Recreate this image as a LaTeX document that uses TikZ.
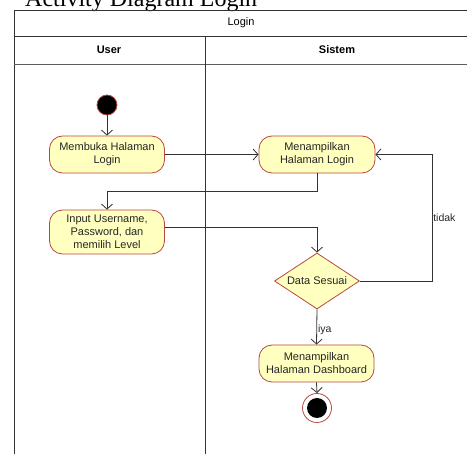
\documentclass[tikz,border=0pt]{standalone}
\usepackage{xcolor}
\usepackage{fontspec}
\setmainfont{Liberation Sans}
\newfontfamily\titlefont{Liberation Serif}
\usepackage{tikz}
\usetikzlibrary{
  positioning,
  calc,
  arrows.meta,
  shapes.geometric
}

\definecolor{actfill}{HTML}{FFFFC0}
\definecolor{actline}{HTML}{B8483E}
\definecolor{edgeline}{HTML}{333333}

\begin{document}
\begin{tikzpicture}[x=1pt,y=-1pt,
  font=\fontsize{11}{13}\selectfont,
  frame/.style={draw=edgeline,line width=0.8pt},
  activity/.style={draw=actline,fill=actfill,line width=0.8pt,rounded corners=13pt,
    align=center,inner sep=2pt,text=black!85},
  decision/.style={draw=actline,fill=actfill,line width=0.8pt,diamond,aspect=1.52,
    inner sep=0pt,minimum width=85pt,minimum height=56pt,text=black!85},
  flow/.style={draw=edgeline,line width=0.8pt,-{Straight Barb[length=5pt,width=11pt]}},
  guard/.style={font=\fontsize{10.5}{12}\selectfont,text=black!85,inner sep=1pt}
]
  \useasboundingbox (0,0) rectangle (467,454);

  % judul
  \node[anchor=base west,inner sep=0pt,font=\titlefont\fontsize{24}{28}\selectfont]
    (judul) at (25,7) {Activity Diagram Login};

  % swimlane
  \draw[frame] (14,460) -- (14,10) -- (469,10) -- (469,460);
  \draw[frame] (14,36) -- (469,36);
  \draw[frame,draw=edgeline!80] (14,64) -- (469,64);
  \draw[frame] (205,36) -- (205,460);
  \node (pool) at (241,23) {Login};
  \node[font=\bfseries\fontsize{11}{13}\selectfont] (laneUser) at (109,50) {User};
  \node[font=\bfseries\fontsize{11}{13}\selectfont] (laneSistem) at (337,50) {Sistem};

  % aktivitas
  \node[circle,fill=black,draw=actline,line width=0.8pt,minimum size=20pt,inner sep=0pt]
    (mulai) at (107,105) {};
  \node[activity,minimum width=115pt,minimum height=37pt] (membuka) at (107,154.5)
    {Membuka Halaman\\Login};
  \node[activity,minimum width=116pt,minimum height=37pt] (tampilLogin) at (317,154.5)
    {Menampilkan\\Halaman Login};
  \node[activity,minimum width=115pt,minimum height=44pt] (input) at (107,232)
    {Input Username,\\Password, dan\\memilih Level};
  \node[decision] (cek) at (317,281) {Data Sesuai};
  \node[activity,minimum width=115pt,minimum height=37pt] (dashboard) at (316.5,363.5)
    {Menampilkan\\Halaman Dashboard};
  \node[circle,draw=actline,fill=white,line width=0.8pt,minimum size=29pt,inner sep=0pt]
    (selesai) at (317,408) {};
  \node[circle,fill=black,minimum size=20pt,inner sep=0pt] (selesaiIsi) at (selesai) {};

  % alur
  \draw[flow] (mulai) -- (membuka);
  \draw[flow] (membuka) -- (tampilLogin);
  \draw[flow] (tampilLogin.south) -- ++(0,18) -| (input.north);
  \draw[flow] ([yshift=5pt]input.east) -| (cek.north);
  \draw[flow] (cek.east) -- ++(72,0) |- (tampilLogin.east)
    node[pos=0.25,anchor=west,guard] {tidak};
  \draw[flow] (cek.south) -- (dashboard.north)
    node[pos=0.58,anchor=west,guard] {iya};
  \draw[flow] (dashboard.south) -- (selesai.north);
\end{tikzpicture}
\end{document}
